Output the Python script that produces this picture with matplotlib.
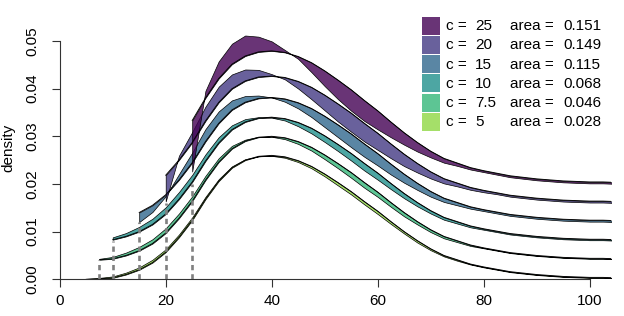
import numpy as np
import matplotlib.pyplot as plt
from matplotlib.colors import to_rgba
from matplotlib.patches import Rectangle

plt.rcParams['font.family'] = ['Liberation Sans', 'DejaVu Sans']

# grid the densities were read on
x = np.arange(5, 105.1, 2.5)

# untruncated density (bottom curve)
dens = np.array([0.0000, 0.0001, 0.0003, 0.0010, 0.0020, 0.0035, 0.0057, 0.0088,
                 0.0124, 0.0168, 0.0206, 0.0234, 0.0250, 0.0258, 0.0260, 0.0257,
                 0.0249, 0.0237, 0.0221, 0.0203, 0.0184, 0.0163, 0.0143, 0.0121,
                 0.0100, 0.0081, 0.0064, 0.0050, 0.0041, 0.0032, 0.0026, 0.0021,
                 0.0016, 0.0013, 0.0010, 0.0008, 0.0006, 0.0005, 0.0004, 0.0004,
                 0.0003])

cuts = [5, 7.5, 10, 15, 20, 25]
areas = [0.028, 0.046, 0.068, 0.115, 0.149, 0.151]
shift = [0.000, 0.004, 0.008, 0.012, 0.016, 0.020]
cols = ['#8FD744', '#35B779', '#21908C', '#31688E', '#443A83', '#440154']

# estimated minus true truncated density, from x = c up to 105
gap5 = [0.0001, 0.0002, 0.0003, 0.0004, 0.0005, 0.0006, 0.0006, 0.0006, 0.0006,
        0.0005, 0.0004, 0.0003, 0.0002, 0.0000, -0.0001,
        -0.0002, -0.0003, -0.0004, -0.0005, -0.0006, -0.0006, -0.0006, -0.0006,
        -0.0005, -0.0004, -0.0004, -0.0003, -0.0002, -0.0002, -0.0001, -0.0001,
        -0.0001, -0.0001, -0.0001, -0.0001, -0.0001, -0.0001, -0.0001, -0.0001,
        -0.0001, -0.0001]
gap7 = [0.0002, 0.0004, 0.0006, 0.0008, 0.0009, 0.0010, 0.0010, 0.0010, 0.0009,
        0.0008, 0.0006, 0.0003, 0.0001, -0.0001,
        -0.0003, -0.0005, -0.0007, -0.0009, -0.0010, -0.0011, -0.0011, -0.0010,
        -0.0009, -0.0008, -0.0006, -0.0005, -0.0004, -0.0003, -0.0002, -0.0001,
        -0.0001, -0.0001, -0.0001, -0.0001, -0.0001, -0.0001, -0.0001, -0.0001,
        -0.0001, -0.0001]
gap10 = [0.0005, 0.0007, 0.0010, 0.0012, 0.0014, 0.0015, 0.0015, 0.0014, 0.0012,
         0.0009, 0.0006, 0.0002, -0.0001,
         -0.0004, -0.0008, -0.0011, -0.0013, -0.0014, -0.0015, -0.0015, -0.0014,
         -0.0012, -0.0010, -0.0008, -0.0006, -0.0005, -0.0004, -0.0003, -0.0002,
         -0.0002, -0.0002, -0.0002, -0.0002, -0.0002, -0.0002, -0.0002, -0.0002,
         -0.0002, -0.0002]
gap15 = [-0.0020, -0.0014, -0.0003, 0.0012, 0.0021, 0.0026, 0.0025, 0.0020, 0.0013,
         0.0006, 0.0000,
         -0.0006, -0.0012, -0.0018, -0.0023, -0.0026, -0.0028, -0.0027, -0.0025,
         -0.0022, -0.0018, -0.0014, -0.0011, -0.0008, -0.0006, -0.0004, -0.0003,
         -0.0003, -0.0003, -0.0003, -0.0003, -0.0003, -0.0003, -0.0003, -0.0003,
         -0.0003, -0.0003]
gap20 = [-0.0055, 0.0009, 0.0022, 0.0030, 0.0033, 0.0030, 0.0024, 0.0015, 0.0004,
         -0.0004, -0.0015, -0.0025, -0.0032, -0.0037, -0.0039, -0.0038, -0.0035,
         -0.0030, -0.0025, -0.0019, -0.0014, -0.0010, -0.0007, -0.0005, -0.0004,
         -0.0003, -0.0003, -0.0003, -0.0003, -0.0003, -0.0003, -0.0003, -0.0003,
         -0.0003, -0.0003]
gap25 = [-0.0107, 0.0015, 0.0036, 0.0043, 0.0043, 0.0032, 0.0020, 0.0005,
         -0.0005, -0.0020, -0.0032, -0.0040, -0.0044, -0.0043, -0.0039, -0.0032,
         -0.0025, -0.0019, -0.0013, -0.0009, -0.0006, -0.0004, -0.0003,
         -0.0003, -0.0003, -0.0003, -0.0003, -0.0003, -0.0003, -0.0003, -0.0003,
         -0.0003, -0.0003]
gaps = [gap5, gap7, gap10, gap15, gap20, gap25]

W, H = 624, 316
fig = plt.figure(figsize=(W / 100, H / 100), dpi=100)
# plot region in pixels: left 59.7, right 610.9, top 16.7, bottom 279.3
ax = fig.add_axes([59.7 / W, (H - 279.3) / H, (610.9 - 59.7) / W, (279.3 - 16.7) / H])

for c, off, col, g in zip(cuts, shift, cols, gaps):
    keep = x >= c
    xs = x[keep]
    below = x <= c
    F = np.trapezoid(dens[below], x[below]) if below.sum() > 1 else 0.0
    true = dens[keep] / (1 - F) + off
    est = true + np.array(g)
    ax.fill_between(xs, est, true, facecolor=to_rgba(col, 0.8),
                    edgecolor='black', linewidth=0.5, zorder=2)
    ax.plot(xs, true, color='black', lw=0.65, zorder=2.5)

for c, off in zip(cuts, shift):
    ax.plot([c, c], [0, off], color='#808080', lw=1.9,
            ls=(0, (2, 1.5)), zorder=3)

ax.set_xlim(0, 104)
ax.set_ylim(0, 0.0551)
ax.spines['top'].set_visible(False)
ax.spines['right'].set_visible(False)
ax.spines['left'].set_bounds(0, 0.05)
ax.spines['bottom'].set_bounds(0, 100)
for s in ['left', 'bottom']:
    ax.spines[s].set_linewidth(0.8)
    ax.spines[s].set_color('#333333')

ax.set_xticks([0, 20, 40, 60, 80, 100])
ax.set_yticks([0, 0.01, 0.02, 0.03, 0.04, 0.05])
ax.set_yticklabels(['0.00', '0.01', '0.02', '0.03', '0.04', '0.05'],
                   rotation=90, va='center')
ax.tick_params(axis='both', length=5.5, width=0.8, color='#333333',
               labelsize=11)
ax.tick_params(axis='x', pad=5)
ax.tick_params(axis='y', pad=9)
ax.set_ylabel('density', fontsize=11, labelpad=7)

# legend drawn by hand, rows from c = 25 down to c = 5
for i, j in enumerate(range(len(cuts) - 1, -1, -1)):
    top = 16.7 + 19.2 * i
    fig.patches.append(Rectangle((422 / W, 1 - (top + 18) / H), 18 / W, 18 / H,
                                 transform=fig.transFigure,
                                 facecolor=to_rgba(cols[j], 0.8),
                                 edgecolor='none'))
    yc = 1 - (top + 9.5) / H
    fig.text(445.7 / W, yc, 'c =', fontsize=11, va='center')
    fig.text(475 / W, yc, f'{cuts[j]:g}', fontsize=11, va='center')
    fig.text(510 / W, yc, 'area =', fontsize=11, va='center')
    fig.text(563.3 / W, yc, f'{areas[j]:.3f}', fontsize=11, va='center')

fig.savefig('out.png', dpi=100)
